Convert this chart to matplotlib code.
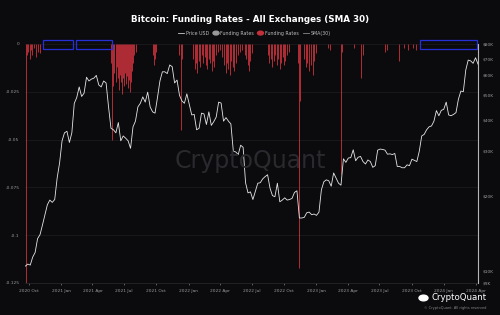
import numpy as np
import pandas as pd
import matplotlib
matplotlib.use("Agg")
import matplotlib.pyplot as plt
import matplotlib.dates as mdates
from matplotlib.patches import Rectangle, Circle
from matplotlib.transforms import blended_transform_factory

# weekly BTC price (USD)
price_start = "2020-09-21"
price_usd = [
    10500, 10700, 10600, 11400, 11900, 13500, 14000, 15300, 16800, 18400,
    19200, 18800, 19300, 23500, 27000,
    33000, 35500, 36000, 32500, 35500, 46500, 49000, 54000, 49500, 51000,
    59000, 57000, 58000, 58500, 60000, 55000, 54000, 57000, 56000, 45000,
    37000, 36500, 35500, 39000, 33000, 34500, 33800, 33000, 30800, 37500,
    39500, 45000, 46500, 49300, 47000, 51500, 45000, 43000, 42500, 49000,
    57000, 62000, 62000, 61000, 66000, 65000, 56000, 57500, 50000, 47500,
    46500, 50700,
    46000, 41800, 42000, 36500, 37000, 42500, 42200, 38300, 43000, 38000,
    39300, 41000, 47000, 46600, 39500, 40800, 39500, 38500, 30000, 29800,
    29100, 31700, 31100, 22500, 20500, 20700, 19300, 20800, 22400, 22500,
    23300, 23800, 24200, 21400, 20000, 19800, 22400, 18900, 19200, 19600,
    19200, 19300, 19500, 20600, 20900, 16300, 16300, 16400, 17100, 17200,
    16800, 16900,
    16700, 17200, 21100, 22700, 23100, 22900, 21800, 24600, 23500, 22400,
    22000, 28000, 27100, 28200, 28300, 30400, 27500, 28400, 28600, 27300,
    26700, 27700, 27300, 25900, 26300, 30300, 30600, 30500, 30300, 29200,
    29300, 29100, 29400, 26100, 26100, 25800, 25800, 26500, 26300, 27900,
    27600, 27300, 30000, 34500, 35000, 36500, 37500, 37800, 39500, 43500,
    41500, 43600,
    44000, 47000, 41800, 41500, 42000, 42700, 48300, 52000, 51700, 63000,
    69000, 68500, 67000, 70500, 66500,
]

# negative funding rates (SMA 30), only the days where they show
fr_dates = [
    "2020-09-22", "2020-09-25", "2020-09-29", "2020-10-03", "2020-10-07",
    "2020-10-11", "2020-10-16", "2020-10-21", "2020-10-26", "2020-11-01",
    "2021-05-24", "2021-05-27", "2021-05-30", "2021-06-03", "2021-06-06",
    "2021-06-09", "2021-06-12", "2021-06-15", "2021-06-18", "2021-06-21",
    "2021-06-24", "2021-06-27", "2021-06-30", "2021-07-03", "2021-07-06",
    "2021-07-09", "2021-07-12", "2021-07-15", "2021-07-18", "2021-07-21",
    "2021-07-24", "2021-07-27", "2021-07-30", "2021-08-03",
    "2021-09-22", "2021-09-25", "2021-09-28", "2021-10-01",
    "2021-12-05", "2021-12-09", "2021-12-12",
    "2022-01-14", "2022-01-18", "2022-01-22", "2022-01-26", "2022-01-30",
    "2022-02-03", "2022-02-07", "2022-02-12", "2022-02-16", "2022-02-20",
    "2022-02-24", "2022-02-28", "2022-03-04", "2022-03-08", "2022-03-12",
    "2022-03-16", "2022-03-20", "2022-03-26", "2022-04-02", "2022-04-08",
    "2022-04-13", "2022-04-17", "2022-04-21", "2022-04-25", "2022-04-29",
    "2022-05-03", "2022-05-08", "2022-05-12", "2022-05-16", "2022-05-22",
    "2022-05-28", "2022-06-03", "2022-06-10", "2022-06-15", "2022-06-19",
    "2022-06-23", "2022-06-27", "2022-07-01",
    "2022-08-16", "2022-08-20", "2022-08-24", "2022-08-28", "2022-09-01",
    "2022-09-05", "2022-09-10", "2022-09-14", "2022-09-19", "2022-09-23",
    "2022-09-27", "2022-10-01", "2022-10-05", "2022-10-10", "2022-10-15",
    "2022-11-10", "2022-11-13", "2022-11-16",
    "2022-11-28", "2022-12-02", "2022-12-07", "2022-12-12", "2022-12-17",
    "2022-12-22", "2022-12-27", "2022-12-31",
    "2023-02-05", "2023-02-10", "2023-03-13", "2023-03-17", "2023-04-20",
    "2023-05-10", "2023-05-14", "2023-07-16", "2023-07-22", "2023-08-26",
    "2023-09-08", "2023-09-20", "2023-10-05", "2023-10-15",
]
fr_values = [
    -0.125, -0.006, -0.004, -0.008, -0.003,
    -0.006, -0.002, -0.007, -0.004, -0.005,
    -0.010, -0.050, -0.022, -0.015, -0.020,
    -0.012, -0.018, -0.024, -0.016, -0.020,
    -0.026, -0.018, -0.022, -0.015, -0.021,
    -0.017, -0.023, -0.019, -0.025, -0.020,
    -0.014, -0.010, -0.006, -0.004,
    -0.006, -0.011, -0.008, -0.004,
    -0.006, -0.045, -0.008,
    -0.008, -0.013, -0.010, -0.015, -0.009,
    -0.012, -0.006, -0.010, -0.007, -0.011,
    -0.013, -0.008, -0.010, -0.014, -0.009,
    -0.012, -0.006, -0.004, -0.003, -0.007,
    -0.011, -0.015, -0.010, -0.013, -0.016,
    -0.009, -0.012, -0.014, -0.010, -0.006,
    -0.004, -0.003, -0.006, -0.008, -0.011,
    -0.014, -0.009, -0.005,
    -0.006, -0.010, -0.008, -0.012, -0.009,
    -0.006, -0.011, -0.008, -0.013, -0.010,
    -0.007, -0.011, -0.009, -0.006, -0.004,
    -0.010, -0.117, -0.030,
    -0.008, -0.012, -0.010, -0.014, -0.011,
    -0.016, -0.009, -0.005,
    -0.002, -0.003, -0.068, -0.004, -0.002,
    -0.018, -0.006, -0.004, -0.003, -0.009,
    -0.002, -0.003, -0.002, -0.003,
]

# periods boxed in blue on the chart
box_spans = [("2020-11-10", "2021-02-04"), ("2021-02-12", "2021-05-26"),
             ("2023-10-24", "2024-04-04")]

fr_ticks = [0, -0.025, -0.05, -0.075, -0.1, -0.125]
fr_labels = ["0", "-0.025", "-0.05", "-0.075", "-0.1", "-0.125"]
price_ticks = [9000, 10000, 20000, 30000, 40000, 50000, 60000, 70000, 80000]
price_labels = ["$9K", "$10K", "$20K", "$30K", "$40K", "$50K", "$60K", "$70K", "$80K"]

BG = "#0b0b0e"
TXT = "#9a9a9a"
RED = "#c4303a"

price_dates = pd.date_range(price_start, periods=len(price_usd), freq="7D")
fr_d = pd.to_datetime(fr_dates)

fig = plt.figure(figsize=(5, 3.15), dpi=100, facecolor=BG)
ax = fig.add_axes([0.05, 0.1016, 0.906, 0.759])
ax.set_facecolor(BG)

ax.vlines(fr_d, 0, fr_values, color=RED, lw=0.7, alpha=0.9)
ax.set_ylim(-0.125, 0)
ax.set_yticks(fr_ticks)
ax.set_yticklabels(fr_labels)
ax.set_xlim(pd.Timestamp("2020-09-20"), pd.Timestamp("2024-04-08"))
for t in fr_ticks:
    ax.axhline(t, color="#1e1e22", lw=0.5, zorder=0)

ax.xaxis.set_major_locator(mdates.MonthLocator(bymonth=[1, 4, 7, 10]))
ax.xaxis.set_major_formatter(mdates.DateFormatter("%Y %b"))
ax.tick_params(axis="x", colors=TXT, labelsize=3.2, length=1.5, width=0.4, pad=3)
ax.tick_params(axis="y", colors=TXT, labelsize=3.2, length=0, pad=4)
for s in ["top", "left", "right"]:
    ax.spines[s].set_visible(False)
ax.spines["bottom"].set_color("#2a2a30")
ax.spines["bottom"].set_linewidth(0.5)

ax2 = ax.twinx()
ax2.plot(price_dates, price_usd, color="#e6e6e6", lw=0.6)
ax2.set_yscale("log")
ax2.set_ylim(9000, 80000)
ax2.set_yticks(price_ticks)
ax2.set_yticklabels(price_labels)
ax2.minorticks_off()
ax2.tick_params(axis="y", colors=TXT, labelsize=3.2, length=0, pad=3)
for s in ["top", "left", "bottom"]:
    ax2.spines[s].set_visible(False)
ax2.spines["right"].set_color("#b5b5b5")
ax2.spines["right"].set_linewidth(0.8)

# blue boxes
tr = blended_transform_factory(ax.transData, ax.transAxes)
for a, b in box_spans:
    x0 = mdates.date2num(pd.Timestamp(a))
    x1 = mdates.date2num(pd.Timestamp(b))
    ax.add_patch(Rectangle((x0, 0.979), x1 - x0, 0.038, transform=tr,
                           fill=False, ec="#2530d6", lw=0.9, clip_on=False, zorder=5))

# watermark
fig.text(0.5, 0.49, "CryptoQuant", color="#2a2a2e", fontsize=17, ha="center", va="center")

# title and legend
fig.text(0.5, 0.938, "Bitcoin: Funding Rates - All Exchanges (SMA 30)",
         color="white", fontsize=6.3, fontweight="bold", ha="center", va="center")
ly = 0.895
fig.add_artist(plt.Line2D([0.355, 0.368], [ly, ly], color="#cccccc", lw=0.6))
fig.text(0.372, ly, "Price USD", color="#bbbbbb", fontsize=3.4, va="center")
fig.add_artist(Circle((0.432, ly), 0.006, transform=fig.transFigure, color="#9a9a9a"))
fig.text(0.441, ly, "Funding Rates", color="#bbbbbb", fontsize=3.4, va="center")
fig.add_artist(Circle((0.521, ly), 0.006, transform=fig.transFigure, color=RED))
fig.text(0.530, ly, "Funding Rates", color="#bbbbbb", fontsize=3.4, va="center")
fig.add_artist(plt.Line2D([0.605, 0.618], [ly, ly], color="#888888", lw=0.6))
fig.text(0.622, ly, "SMA(30)", color="#bbbbbb", fontsize=3.4, va="center")

# logo, bottom right
fig.add_artist(Circle((0.847, 0.054), 0.009, transform=fig.transFigure, color="white"))
fig.text(0.974, 0.054, "CryptoQuant", color="white", fontsize=6.2, ha="right", va="center")
fig.text(0.972, 0.022, "\u00a9 CryptoQuant. All rights reserved", color="#888888",
         fontsize=2.5, ha="right", va="center")

fig.savefig("out.png", dpi=100, facecolor=BG)
